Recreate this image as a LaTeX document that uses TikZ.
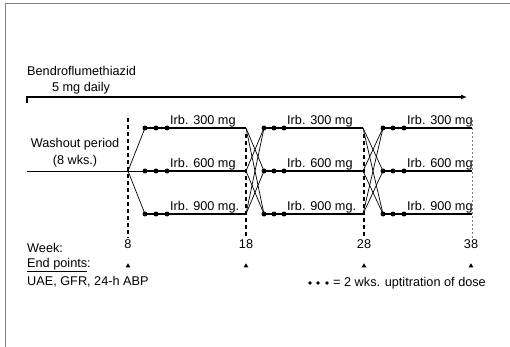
\documentclass[tikz,border=0pt]{standalone}
\usepackage{fontspec}
\setmainfont{Liberation Sans}
\usetikzlibrary{arrows.meta,shapes.geometric}
\begin{document}
\begin{tikzpicture}[x=1pt,y=-1pt,
  txt/.style={font=\fontsize{12.7}{14}\selectfont, inner sep=0pt},
  dosedot/.style={circle, fill, inner sep=0pt, minimum size=5pt},
  legdot/.style={circle, fill, inner sep=0pt, minimum size=3.8pt},
  doseline/.style={line width=2.6pt},
  dotline/.style={line width=1.2pt},
  trans/.style={line width=0.7pt},
  wkline/.style={line width=1.5pt, dash pattern=on 4pt off 3pt},
  tri/.style={regular polygon, regular polygon sides=3, fill, inner sep=0pt, minimum size=5.5pt}]
\useasboundingbox (0,0) rectangle (510,347);
% frame
\draw[gray, line width=0.8pt] (5,347) -- (5,3) -- (510,3);
% diuretic arrow
\node[txt, anchor=west] (bendro) at (27,71) {Bendroflumethiazid};
\node[txt] (daily) at (81,88) {5 mg daily};
\coordinate (arrS) at (27,103);
\coordinate (arrC) at (27,97);
\coordinate (arrE) at (467,97);
\draw[line width=1.3pt, -{Latex[length=6pt,width=5pt]}] (arrS) -- (arrC) -- (arrE);
% washout
\node[txt] (wash) at (75,144) {Washout period};
\node[txt] (wks) at (75,161) {(8 wks.)};
\coordinate (base) at (27,171);
\coordinate (w8) at (128,171);
\draw[line width=0.8pt] (base) -- (w8);
% week dashed lines
\coordinate (v8t) at (128,118); \coordinate (v8b) at (128,238);
\coordinate (v18t) at (246,134); \coordinate (v18b) at (246,238);
\coordinate (v28t) at (364,134); \coordinate (v28b) at (364,238);
\coordinate (v38t) at (472,120); \coordinate (v38b) at (472,238);
\draw[wkline] (v8t) -- (v8b);
\draw[wkline] (v18t) -- (v18b);
\draw[wkline] (v28t) -- (v28b);
\draw[gray, line width=0.5pt, dash pattern=on 2pt off 2pt] (v38t) -- (v38b);
% dose rows
\foreach \p/\xa/\xb/\xc/\xe in {1/145/156/167/246, 2/264/274/284/363, 3/383/393/404/472}{
  \foreach \r/\y/\lab in {1/128/{Irb. 300 mg}, 2/171/{Irb. 600 mg}, 3/214/{Irb. 900 mg\ifnum\p<3 .\fi}}{
    \node[dosedot] (d\p\r a) at (\xa,\y) {};
    \node[dosedot] (d\p\r b) at (\xb,\y) {};
    \node[dosedot] (d\p\r c) at (\xc,\y) {};
    \coordinate (e\p\r) at (\xe,\y);
    \draw[dotline] (d\p\r a.center) -- (d\p\r b.center) -- (d\p\r c.center);
    \draw[doseline] (d\p\r c.center) -- (e\p\r);
    \node[txt, anchor=base west] (l\p\r) at (\xc+3,\y-3.5) {\lab};
  }
}
% transitions
\foreach \r in {1,2,3}{ \draw[trans] (w8) -- (d1\r a.center); }
\foreach \j in {1,2,3}{
  \foreach \k in {1,2,3}{
    \ifnum\j=\k\else
      \draw[trans] (e1\j) -- (d2\k a.center);
      \draw[trans] (e2\j) -- (d3\k a.center);
    \fi
  }
}
% week labels
\node[txt] (n8) at (128,244) {8};
\node[txt] (n18) at (246,244) {18};
\node[txt] (n28) at (364,244) {28};
\node[txt] (n38) at (471,244) {38};
\node[txt, anchor=west] (week) at (27,248) {Week:};
\node[txt, anchor=west] (endp) at (27,265) {\underline{End points}:};
\node[txt, anchor=west] (uae) at (27,282) {UAE, GFR, 24-h ABP};
\node[tri] (t8) at (128,266) {};
\node[tri] (t18) at (246,266) {};
\node[tri] (t28) at (364,266) {};
\node[tri] (t38) at (471,266) {};
% legend
\node[legdot] (g1) at (310,283) {};
\node[legdot] (g2) at (318,283) {};
\node[legdot] (g3) at (327,283) {};
\node[txt, anchor=west] (leg) at (333,283) {= 2 wks. uptitration of dose};
\end{tikzpicture}
\end{document}
